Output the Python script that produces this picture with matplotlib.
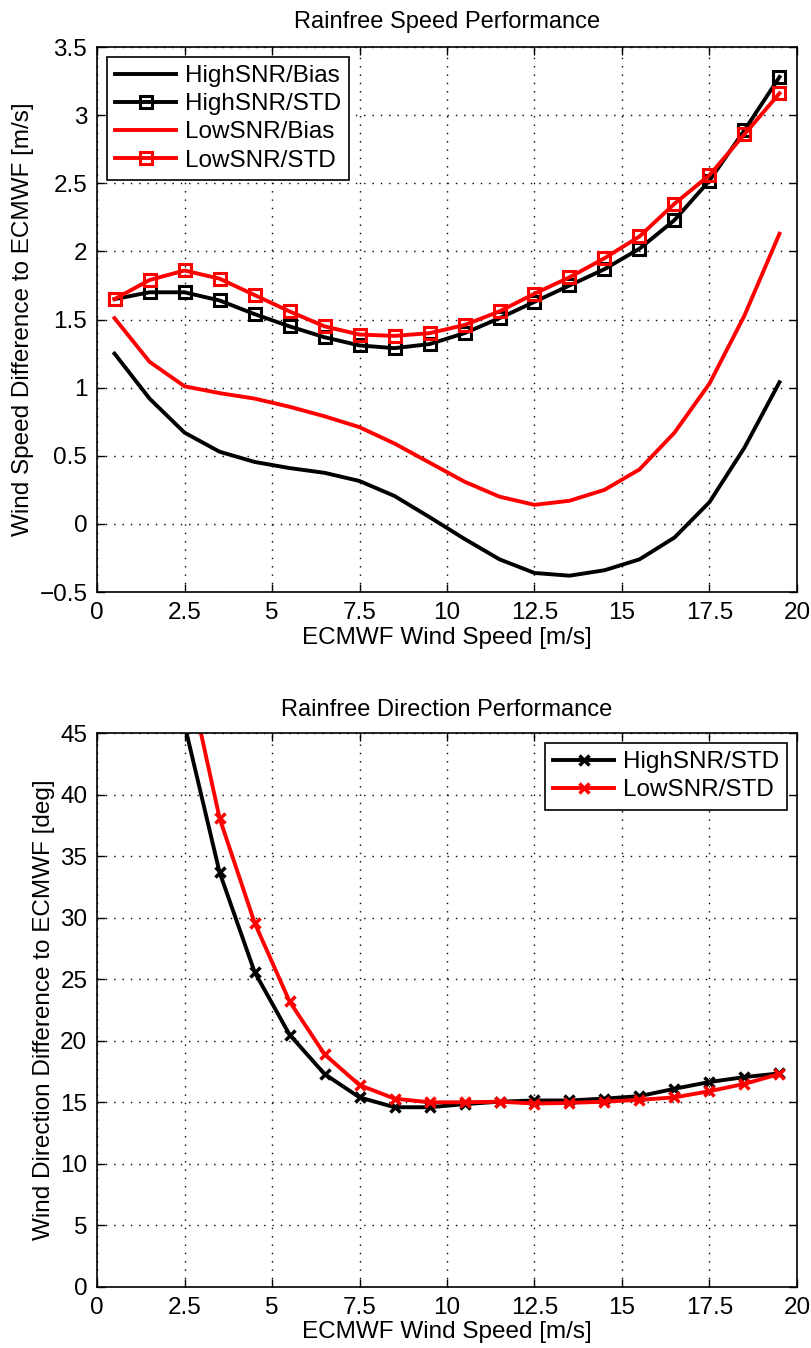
import matplotlib
matplotlib.use("Agg")
import matplotlib.pyplot as plt

plt.rcParams['font.family'] = ['Liberation Sans', 'DejaVu Sans']
plt.rcParams['font.size'] = 17.5

# wind speed bins (centres)
wind_bins = [0.5, 1.5, 2.5, 3.5, 4.5, 5.5, 6.5, 7.5, 8.5, 9.5,
             10.5, 11.5, 12.5, 13.5, 14.5, 15.5, 16.5, 17.5, 18.5, 19.5]

# speed performance [m/s]
high_bias = [1.25, 0.92, 0.67, 0.53, 0.455, 0.41, 0.375, 0.315, 0.205, 0.05,
             -0.11, -0.26, -0.36, -0.38, -0.34, -0.26, -0.10, 0.16, 0.56, 1.04]
high_std = [1.65, 1.70, 1.70, 1.64, 1.54, 1.45, 1.37, 1.31, 1.29, 1.32,
            1.40, 1.51, 1.63, 1.75, 1.87, 2.02, 2.23, 2.52, 2.89, 3.28]
low_bias = [1.51, 1.19, 1.01, 0.96, 0.92, 0.86, 0.79, 0.71, 0.59, 0.45,
            0.31, 0.20, 0.14, 0.17, 0.25, 0.40, 0.67, 1.03, 1.53, 2.13]
low_std = [1.65, 1.79, 1.86, 1.80, 1.68, 1.56, 1.45, 1.39, 1.38, 1.40,
           1.46, 1.56, 1.69, 1.81, 1.95, 2.11, 2.35, 2.56, 2.86, 3.16]

# direction performance [deg]
high_dir_std = [72.0, 58.0, 45.7, 33.7, 25.6, 20.5, 17.3, 15.4, 14.6, 14.6,
                14.85, 15.05, 15.15, 15.15, 15.3, 15.5, 16.1, 16.65, 17.05, 17.35]
low_dir_std = [80.0, 64.0, 51.1, 38.1, 29.6, 23.2, 18.9, 16.4, 15.3, 15.0,
               15.0, 15.05, 14.9, 14.95, 15.05, 15.2, 15.4, 15.9, 16.5, 17.3]

x_ticks = [0, 2.5, 5, 7.5, 10, 12.5, 15, 17.5, 20]
speed_ticks = [-0.5, 0, 0.5, 1, 1.5, 2, 2.5, 3, 3.5]
dir_ticks = [0, 5, 10, 15, 20, 25, 30, 35, 40, 45]


def fmt(v):
    return f"{v:g}".replace('-', '\u2212')


def matlab_style(ax):
    ax.grid(True, linestyle=(0, (1, 5)), color='black', linewidth=1.0)
    ax.tick_params(direction='in', top=True, right=True, length=6, width=1, pad=7)
    for s in ax.spines.values():
        s.set_linewidth(1.2)
    ax.set_xlim(0, 20)
    ax.set_xticks(x_ticks)
    ax.set_xticklabels([fmt(v) for v in x_ticks])


def add_legend(ax, loc):
    leg = ax.legend(loc=loc, fancybox=False, edgecolor='black', framealpha=1,
                    handlelength=2.5, borderaxespad=0.4, labelspacing=0.25,
                    handletextpad=0.35, borderpad=0.35)
    leg.get_frame().set_linewidth(1.2)
    return leg


fig = plt.figure(figsize=(8.12, 13.48), dpi=100)

# --- speed ---
ax1 = fig.add_axes([0.1195, 0.5608, 0.862, 0.4043])
ax1.plot(wind_bins, high_bias, color='black', lw=2.8, label='HighSNR/Bias')
ax1.plot(wind_bins, high_std, color='black', lw=2.8, marker='s', ms=9,
         mfc='none', mew=2.2, label='HighSNR/STD')
ax1.plot(wind_bins, low_bias, color='red', lw=2.8, label='LowSNR/Bias')
ax1.plot(wind_bins, low_std, color='red', lw=2.8, marker='s', ms=9,
         mfc='none', mew=2.2, label='LowSNR/STD')
matlab_style(ax1)
ax1.set_ylim(-0.5, 3.5)
ax1.set_yticks(speed_ticks)
ax1.set_yticklabels([fmt(v) for v in speed_ticks])
ax1.set_title('Rainfree Speed Performance', fontsize=17, pad=14)
ax1.set_xlabel('ECMWF Wind Speed [m/s]', labelpad=2)
ax1.set_ylabel('Wind Speed Difference to ECMWF [m/s]', labelpad=4)
add_legend(ax1, 'upper left')

# --- direction ---
ax2 = fig.add_axes([0.1195, 0.0453, 0.862, 0.4109])
ax2.plot(wind_bins, high_dir_std, color='black', lw=2.8, marker='x', ms=7,
         mew=2.5, label='HighSNR/STD')
ax2.plot(wind_bins, low_dir_std, color='red', lw=2.8, marker='x', ms=7,
         mew=2.5, label='LowSNR/STD')
matlab_style(ax2)
ax2.set_ylim(0, 45)
ax2.set_yticks(dir_ticks)
ax2.set_yticklabels([fmt(v) for v in dir_ticks])
ax2.set_title('Rainfree Direction Performance', fontsize=17, pad=12)
ax2.set_xlabel('ECMWF Wind Speed [m/s]', labelpad=2)
ax2.set_ylabel('Wind Direction Difference to ECMWF [deg]', labelpad=4)
add_legend(ax2, 'upper right')

fig.savefig('out.png', dpi=100)
